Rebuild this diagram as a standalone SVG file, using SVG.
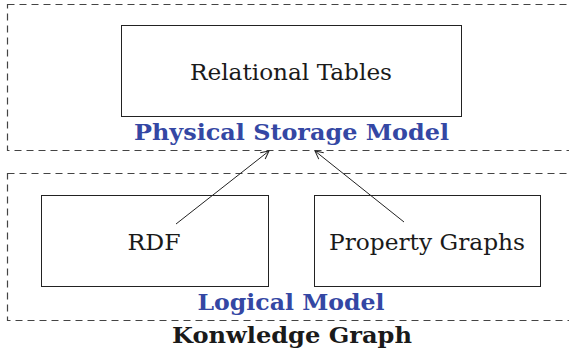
<svg xmlns="http://www.w3.org/2000/svg" width="569" height="354" viewBox="0 0 569 354">
<defs>
<style>
.frame{fill:none;stroke:#444;stroke-width:1.2;stroke-dasharray:7,5}
.box{fill:#fff;stroke:#222;stroke-width:1}
text{font-family:'DejaVu Serif',serif}
.lbl{font-size:22px;fill:#1a1a1a;text-anchor:middle}
.grp{font-size:22px;font-weight:bold;text-anchor:middle}
.blue{fill:#3447a4}
.edge{fill:none;stroke:#222;stroke-width:1}
</style>
<marker id="arr" viewBox="0 0 10 10" refX="9" refY="5" markerWidth="10" markerHeight="10" markerUnits="userSpaceOnUse" orient="auto">
<path d="M1,1 L9,5 L1,9" fill="none" stroke="#222" stroke-width="1"/>
</marker>
</defs>
<g id="physical-storage-model">
<rect class="frame" x="7.5" y="4.5" width="570" height="146"/>
<text class="grp blue" x="291.5" y="140" textLength="315" lengthAdjust="spacingAndGlyphs">Physical Storage Model</text>
</g>
<g id="logical-model">
<rect class="frame" x="7.5" y="173.5" width="570" height="147"/>
<text class="grp blue" x="291" y="310" textLength="187" lengthAdjust="spacingAndGlyphs">Logical Model</text>
</g>
<g id="knowledge-graph">
<text class="grp" fill="#1a1a1a" x="292" y="343" textLength="240" lengthAdjust="spacingAndGlyphs">Konwledge Graph</text>
</g>
<g id="relational-tables">
<rect class="box" x="121.5" y="25.5" width="340" height="91"/>
<text class="lbl" x="291" y="80" textLength="202" lengthAdjust="spacingAndGlyphs">Relational Tables</text>
</g>
<g id="rdf">
<rect class="box" x="41.5" y="195.5" width="227" height="91"/>
<text class="lbl" x="154" y="250" textLength="53" lengthAdjust="spacingAndGlyphs">RDF</text>
</g>
<g id="property-graphs">
<rect class="box" x="314.5" y="195.5" width="226" height="91"/>
<text class="lbl" x="427" y="250" textLength="196" lengthAdjust="spacingAndGlyphs">Property Graphs</text>
</g>
<g id="connectors">
<line class="edge" x1="176" y1="224" x2="269" y2="151" marker-end="url(#arr)"/>
<line class="edge" x1="404" y1="222" x2="315" y2="151" marker-end="url(#arr)"/>
</g>
</svg>
